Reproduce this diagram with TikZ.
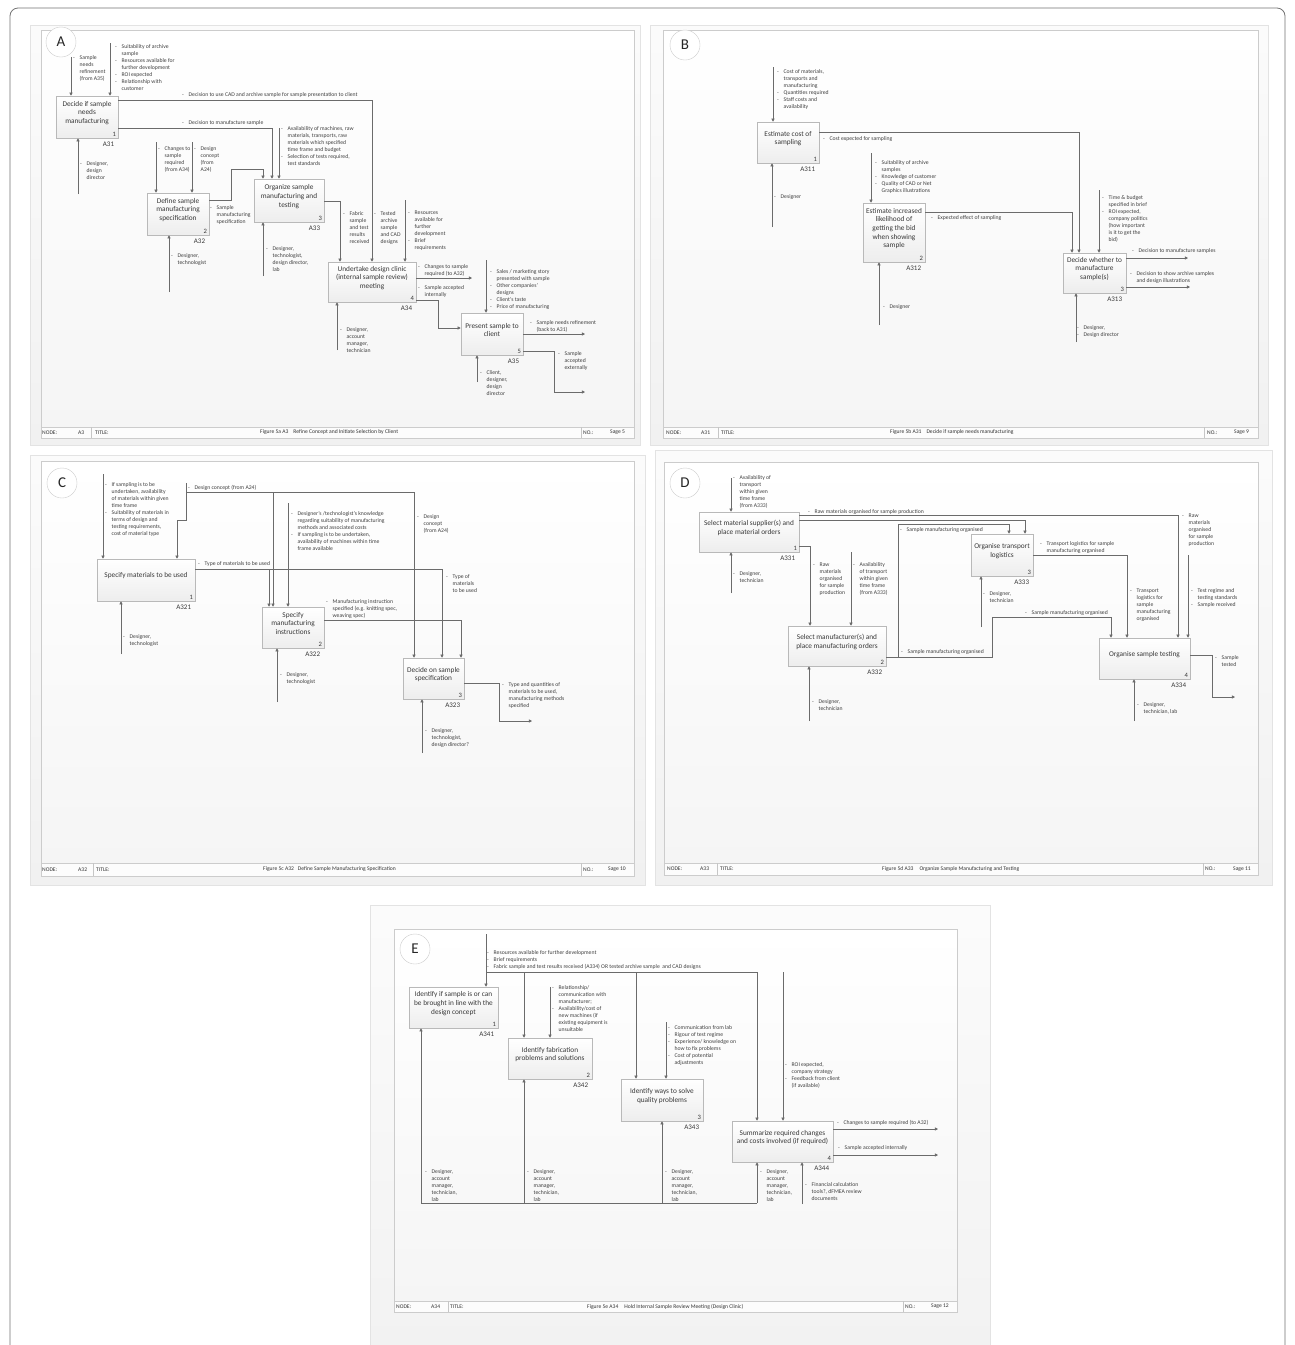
\documentclass[tikz,border=0pt]{standalone}
\usepackage{fontspec}
\setmainfont{Carlito}
\usetikzlibrary{arrows.meta,calc}
\newcommand\bu{\makebox[6.5pt][l]{-}}
\newcommand\bi{\hspace*{6.5pt}}
\newcommand\proc[8]{%
 \node[pbox, minimum width=#4, minimum height=#5] (#1) at (#2,#3) {};
 \node[btxt] (#1t) at ([yshift=4pt]#1.center) {#6};
 \node[num, anchor=south east] (#1n) at ([xshift=-2pt,yshift=1.5pt]#1.south east) {#7};
 \node[aid] (#1i) at ([xshift=-4pt,yshift=-3.5pt]#1.south east) {#8};
}
\newcommand\pagebg[9]{%
 \path[top color=gray!3, bottom color=gray!11, draw=gray!22, line width=0.4pt] (#1,#2) rectangle (#3,#4);
 \path[top color=white, bottom color=gray!8, draw=gray!40, line width=0.5pt] (#5,#6) rectangle (#7,#8);
 \draw[gray!40, line width=0.5pt, fill=gray!2] (#5,#9) rectangle (#7,#8);
}
\begin{document}
\begin{tikzpicture}[x=1pt,y=-1pt,
 ln/.style={draw=black!58, line width=0.75pt},
 arr/.style={ln, -{Triangle[length=3.2pt,width=3.2pt]}},
 pbox/.style={draw=gray!55, line width=0.5pt, top color=white, bottom color=gray!14, inner sep=0pt},
 btxt/.style={font=\fontsize{7.3}{8.7}\selectfont, align=center, text=black!78, inner sep=0pt},
 num/.style={font=\fontsize{6.6}{7}\selectfont, inner sep=0pt, text=black!78},
 aid/.style={font=\fontsize{7}{7}\selectfont, inner sep=0pt, text=black!78, anchor=north east},
 lab/.style={font=\fontsize{5.7}{7}\selectfont, align=left, inner sep=0pt, anchor=north west, text=black!75},
 ftxt/.style={font=\fontsize{5.6}{6}\selectfont, inner sep=0pt, anchor=west, text=black!80},
 fdiv/.style={draw=gray!45, line width=0.5pt},
 letter/.style={circle, draw=gray!40, fill=white, minimum size=30pt, inner sep=0pt, font=\fontsize{15}{15}\selectfont, text=black!85}
]
\useasboundingbox (0,0) rectangle (1295,1345);
\fill[white] (0,0) rectangle (1295,1345);
\draw[black!55, line width=0.8pt, rounded corners=8pt] (10,1400) -- (10,8) -- (1285,8) -- (1285,1400);

% ---------- page backgrounds
\pagebg{30}{25}{640}{445}{41}{30}{634}{438}{427}
\pagebg{650}{25}{1268}{445}{663}{30}{1258}{438}{427}
\pagebg{30}{455}{645}{885}{41}{461}{634}{876}{863}
\pagebg{655}{450}{1272}{885}{664}{462}{1258}{875}{863}
\pagebg{370}{905}{990}{1400}{394}{929}{957}{1312}{1301}

% ---------- footers
\draw[fdiv] (91,427) -- (91,438); \draw[fdiv] (581,427) -- (581,438);
\node[ftxt] (fA1) at (42,432.5) {NODE:};
\node[ftxt] (fA2) at (78,432.5) {A3};
\node[ftxt] (fA3) at (95,432.5) {TITLE:};
\node[ftxt] (fA4) at (260,432.5) {Figure 5a A3\hspace{5pt}Refine Concept and Initiate Selection by Client};
\node[ftxt] (fA5) at (583,432.5) {NO.:};
\node[ftxt] (fA6) at (610,432.5) {Sage 5};

\draw[fdiv] (718,427) -- (718,438); \draw[fdiv] (1204,427) -- (1204,438);
\node[ftxt] (fB1) at (666,432.5) {NODE:};
\node[ftxt] (fB2) at (701,432.5) {A31};
\node[ftxt] (fB3) at (721,432.5) {TITLE:};
\node[ftxt] (fB4) at (890,432.5) {Figure 5b A31\hspace{5pt}Decide if sample needs manufacturing};
\node[ftxt] (fB5) at (1207,432.5) {NO.:};
\node[ftxt] (fB6) at (1234,432.5) {Sage 9};

\draw[fdiv] (93,863) -- (93,876); \draw[fdiv] (581,863) -- (581,876);
\node[ftxt] (fC1) at (42,869.5) {NODE:};
\node[ftxt] (fC2) at (78,869.5) {A32};
\node[ftxt] (fC3) at (96,869.5) {TITLE:};
\node[ftxt] (fC4) at (263,869.5) {Figure 5c A32\hspace{4pt}Define Sample Manufacturing Specification};
\node[ftxt] (fC5) at (583,869.5) {NO.:};
\node[ftxt] (fC6) at (608,869.5) {Sage 10};

\draw[fdiv] (717,863) -- (717,875); \draw[fdiv] (1203,863) -- (1203,875);
\node[ftxt] (fD1) at (667,869) {NODE:};
\node[ftxt] (fD2) at (700,869) {A33};
\node[ftxt] (fD3) at (720,869) {TITLE:};
\node[ftxt] (fD4) at (882,869) {Figure 5d A33\hspace{6pt}Organize Sample Manufacturing and Testing};
\node[ftxt] (fD5) at (1205,869) {NO.:};
\node[ftxt] (fD6) at (1233,869) {Sage 11};

\draw[fdiv] (448,1301) -- (448,1312); \draw[fdiv] (903,1301) -- (903,1312);
\node[ftxt] (fE1) at (396,1306.5) {NODE:};
\node[ftxt] (fE2) at (431,1306.5) {A34};
\node[ftxt] (fE3) at (450,1306.5) {TITLE:};
\node[ftxt] (fE4) at (587,1306.5) {Figure 5e A34\hspace{6pt}Hold Internal Sample Review Meeting (Design Clinic)};
\node[ftxt] (fE5) at (905,1306.5) {NO.:};
\node[ftxt] (fE6) at (931,1306.5) {Sage 12};

% ---------- letters
\node[letter] (LA) at (61,42) {A};
\node[letter] (LB) at (685,45) {B};
\node[letter] (LC) at (62,483) {C};
\node[letter] (LD) at (685,483) {D};
\node[letter] (LE) at (415,949) {E};

% =================== PANEL A
\proc{A31}{87}{117}{62}{42}{Decide if sample\\needs\\manufacturing}{1}{A31}
\proc{A32}{178}{214}{62}{42}{Define sample\\manufacturing\\specification}{2}{A32}
\proc{A33}{289}{200.5}{70}{43}{Organize sample\\manufacturing and\\testing}{3}{A33}
\proc{A34}{372}{282}{88}{40}{Undertake design clinic\\(internal sample review)\\meeting}{4}{A34}
\proc{A35}{492}{334}{62}{42}{Present sample to\\client}{5}{A35}

\coordinate (pA1) at (71,57);
\coordinate (pA2) at (110,43);
\coordinate (pA3) at (156,142);
\coordinate (pA4) at (192,142);
\coordinate (pA5) at (78,194);
\coordinate (pA6) at (169,292);
\coordinate (pA7) at (279,128);
\coordinate (pA8) at (263,276);
\coordinate (pA9) at (405,200);
\coordinate (pA10) at (337,350);
\coordinate (pA11) at (486,260);
\coordinate (pA12) at (477,382);
\coordinate (qA1) at (472,278);
\coordinate (qA2) at (585,334);
\coordinate (qA3) at (585,392);

\draw[arr] (pA1) -- (A31.north -| pA1);
\draw[arr] (pA2) -- (A31.north -| pA2);
\draw[arr] (pA5) -- (A31.south -| pA5);
\draw[arr] (A31.east |- 0,100) -| (A34.north -| 372,0);
\draw[arr] (A31.east |- 0,128) -| (A33.north -| 272,0);
\draw[arr] (pA3) -- (A32.north -| pA3);
\draw[arr] (pA4) -- (A32.north -| pA4);
\draw[arr] (pA6) -- (A32.south -| pA6);
\draw[arr] (A32.east |- 0,200) -- (231,200) -- (231,169) -| (A33.north -| 263,0);
\draw[arr] (pA7) -- (A33.north -| pA7);
\draw[arr] (pA8) -- (A33.south -| pA8);
\draw[arr] (A33.east |- 0,201) -| (A34.north -| 340,0);
\draw[arr] (pA9) -- (A34.north -| pA9);
\draw[arr] (pA10) -- (A34.south -| pA10);
\draw[arr] (A34.east |- 0,278) -- (qA1);
\draw[arr] (A34.east |- 0,300) -| (438,328) -- (A35.west |- 0,328);
\draw[arr] (pA11) -- (A35.north -| pA11);
\draw[arr] (pA12) -- (A35.south -| pA12);
\draw[arr] (A35.east |- 0,334) -- (qA2);
\draw[arr] (A35.east |- 0,351) -| (554,392) -- (qA3);

\node[lab] (lA1) at (73,55.5) {\bu Sample\\\bi needs\\\bi refinement\\\bi (from A35)};
\node[lab] (lA2) at (115,44.5) {\bu Suitability of archive\\\bi sample\\\bu Resources available for\\\bi further development\\\bu ROI expected\\\bu Relationship with\\\bi customer};
\node[lab] (lA3) at (182,92) {\bu Decision to use CAD and archive sample for sample presentation to client};
\node[lab] (lA4) at (182,120) {\bu Decision to manufacture sample};
\node[lab] (lA5) at (158,146) {\bu Changes to\\\bi sample\\\bi required\\\bi (from A34)};
\node[lab] (lA6) at (194,146) {\bu Design\\\bi concept\\\bi (from\\\bi A24)};
\node[lab] (lA7) at (80,161) {\bu Designer,\\\bi design\\\bi director};
\node[lab] (lA8) at (171,253) {\bu Designer,\\\bi technologist};
\node[lab] (lA9) at (210,205) {\bu Sample\\\bi manufacturing\\\bi specification};
\node[lab] (lA10) at (281,126) {\bu Availability of machines, raw\\\bi materials, transports, raw\\\bi materials which specified\\\bi time frame and budget\\\bu Selection of tests required,\\\bi test standards};
\node[lab] (lA11) at (266,246) {\bu Designer,\\\bi technologist,\\\bi design director,\\\bi lab};
\node[lab] (lA12) at (343,211) {\bu Fabric\\\bi sample\\\bi and test\\\bi results\\\bi received};
\node[lab] (lA13) at (374,211) {\bu Tested\\\bi archive\\\bi sample\\\bi and CAD\\\bi designs};
\node[lab] (lA14) at (408,210.5) {\bu Resources\\\bi available for\\\bi further\\\bi development\\\bu Brief\\\bi requirements};
\node[lab] (lA15) at (418,264.5) {\bu Changes to sample\\\bi required (to A32)};
\node[lab] (lA16) at (418,285.5) {\bu Sample accepted\\\bi internally};
\node[lab] (lA17) at (340,327.5) {\bu Designer,\\\bi account\\\bi manager,\\\bi technician};
\node[lab] (lA18) at (490,269.5) {\bu Sales / marketing story\\\bi presented with sample\\\bu Other companies'\\\bi designs\\\bu Client's taste\\\bu Price of manufacturing};
\node[lab] (lA19) at (530,320.5) {\bu Sample needs refinement\\\bi (back to A31)};
\node[lab] (lA20) at (558,351.5) {\bu Sample\\\bi accepted\\\bi externally};
\node[lab] (lA21) at (480,370.5) {\bu Client,\\\bi designer,\\\bi design\\\bi director};

% =================== PANEL B
\proc{B1}{788}{142.5}{62}{41}{Estimate cost of\\sampling}{1}{A311}
\proc{B2}{894}{232.5}{62}{59}{Estimate increased\\likelihood of\\getting the bid\\when showing\\sample}{2}{A312}
\proc{B3}{1094.5}{273}{63}{40}{Decide whether to\\manufacture\\sample(s)}{3}{A313}

\coordinate (pB1) at (773,67);
\coordinate (pB2) at (772,227);
\coordinate (pB3) at (871,153);
\coordinate (pB4) at (879,325);
\coordinate (pB5) at (1099,190);
\coordinate (pB6) at (1076,342);
\coordinate (qB1) at (1188,258);
\coordinate (qB2) at (1190,287);

\draw[arr] (pB1) -- (B1.north -| pB1);
\draw[arr] (pB2) -- (B1.south -| pB2);
\draw[arr] (B1.east |- 0,132) -| (B3.north -| 1079,0);
\draw[arr] (pB3) -- (B2.north -| pB3);
\draw[arr] (pB4) -- (B2.south -| pB4);
\draw[arr] (B2.east |- 0,212) -| (B3.north -| 1072,0);
\draw[arr] (pB5) -- (B3.north -| pB5);
\draw[arr] (B3.east |- 0,258) -- (qB1);
\draw[arr] (B3.east |- 0,287) -- (qB2);
\draw[arr] (pB6) -- (B3.south -| pB6);

\node[lab] (lB1) at (777,69) {\bu Cost of materials,\\\bi transports and\\\bi manufacturing\\\bu Quantities required\\\bu Staff costs and\\\bi availability};
\node[lab] (lB2) at (774,194.5) {\bu Designer};
\node[lab] (lB3) at (823,136.5) {\bu Cost expected for sampling};
\node[lab] (lB4) at (875,160) {\bu Suitability of archive\\\bi samples\\\bu Knowledge of customer\\\bu Quality of CAD or Net\\\bi Graphics illustrations};
\node[lab] (lB5) at (883,304) {\bu Designer};
\node[lab] (lB6) at (931,215) {\bu Expected effect of sampling};
\node[lab] (lB7) at (1102,195) {\bu Time \& budget\\\bi specified in brief\\\bu ROI expected,\\\bi company politics\\\bi (how important\\\bi is it to get the\\\bi bid)};
\node[lab] (lB8) at (1132,248.5) {\bu Decision to manufacture samples};
\node[lab] (lB9) at (1130,271.5) {\bu Decision to show archive samples\\\bi and design illustrations};
\node[lab] (lB10) at (1077,325.5) {\bu Designer,\\\bu Design director};

% =================== PANEL C
\proc{C1}{146}{580}{98}{42}{Specify materials to be used}{1}{A321}
\proc{C2}{293}{627.5}{62}{41}{Specify\\manufacturing\\instructions}{2}{A322}
\proc{C3}{433.5}{678.5}{61}{41}{Decide on sample\\specification}{3}{A323}

\coordinate (pC1) at (103,474);
\coordinate (pC2) at (186,483);
\coordinate (pC3) at (288,503);
\coordinate (pC4) at (121,654);
\coordinate (pC5) at (277,702);
\coordinate (pC6) at (422,753);
\coordinate (qC1) at (532,721);

\draw[arr] (pC1) -- (C1.north -| pC1);
\draw[arr] (pC2) -- (186,492) -| (C3.north -| 414,0);
\draw[arr] (273,492) -- (C2.north -| 273,0);
\draw[arr] (186,492) -- (186,520) -- (177,520) -- (C1.north -| 177,0);
\draw[arr] (C1.east |- 0,569) -| (C3.north -| 442,0);
\draw[arr] (269,569) -- (C2.north -| 269,0);
\draw[arr] (pC3) -- (C2.north -| pC3);
\draw[arr] (C2.east |- 0,620) -| (C3.north -| 461,0);
\draw[arr] (pC4) -- (C1.south -| pC4);
\draw[arr] (pC5) -- (C2.south -| pC5);
\draw[arr] (C3.east |- 0,683) -| (499,721) -- (qC1);
\draw[arr] (pC6) -- (C3.south -| pC6);

\node[lab] (lC1) at (105,482.5) {\bu If sampling is to be\\\bi undertaken, availability\\\bi of materials within given\\\bi time frame\\\bu Suitability of materials in\\\bi terms of design and\\\bi testing requirements,\\\bi cost of material type};
\node[lab] (lC2) at (188,485.5) {\bu Design concept (from A24)};
\node[lab] (lC3) at (291,511) {\bu Designer's /technologist's knowledge\\\bi regarding suitability of manufacturing\\\bi methods and associated costs\\\bu If sampling is to be undertaken,\\\bi availability of machines within time\\\bi frame available};
\node[lab] (lC4) at (198,561.5) {\bu Type of materials to be used};
\node[lab] (lC5) at (417,514) {\bu Design\\\bi concept\\\bi (from A24)};
\node[lab] (lC6) at (446,574) {\bu Type of\\\bi materials\\\bi to be used};
\node[lab] (lC7) at (326,599) {\bu Manufacturing instruction\\\bi specified (e.g. knitting spec,\\\bi weaving spec)};
\node[lab] (lC8) at (123,634) {\bu Designer,\\\bi technologist};
\node[lab] (lC9) at (280,672.5) {\bu Designer,\\\bi technologist};
\node[lab] (lC10) at (502,682.5) {\bu Type and quantities of\\\bi materials to be used,\\\bi manufacturing methods\\\bi specified};
\node[lab] (lC11) at (425,728.5) {\bu Designer,\\\bi technologist,\\\bi design director?};

% =================== PANEL D
\proc{D1}{749}{532}{100}{40}{Select material supplier(s) and\\place material orders}{1}{A331}
\proc{D2}{837}{646}{98}{40}{Select manufacturer(s) and\\place manufacturing orders}{2}{A332}
\proc{D3}{1002}{555}{62}{42}{Organise transport\\logistics}{3}{A333}
\proc{D4}{1144.5}{658.5}{91}{41}{Organise sample testing}{4}{A334}

\coordinate (pD1) at (731,478);
\coordinate (pD2) at (731,593);
\coordinate (pD3) at (851,552);
\coordinate (pD4) at (809,721);
\coordinate (pD5) at (981,627);
\coordinate (pD6) at (1188,555);
\coordinate (pD7) at (1134,721);
\coordinate (qD1) at (1235,697);

\draw[arr] (pD1) -- (D1.north -| pD1);
\draw[arr] (pD2) -- (D1.south -| pD2);
\draw[arr] (D1.east |- 0,515) -| (D4.north -| 1178,0);
\draw[arr] (D1.east |- 0,520) -| (D3.north -| 1025,0);
\draw[arr] (D1.east |- 0,546) -| (D2.north -| 810,0);
\draw[arr] (pD3) -- (D2.north -| pD3);
\draw[arr] (pD4) -- (D2.south -| pD4);
\draw[arr] (D2.east |- 0,657) -- (992,657) -- (992,617) -| (D4.north -| 1111,0);
\draw[arr] (898,657) -- (898,524) -| (D3.north -| 1009,0);
\draw[arr] (D3.east |- 0,555) -| (D4.north -| 1127,0);
\draw[arr] (pD5) -- (D3.south -| pD5);
\draw[arr] (pD6) -- (D4.north -| pD6);
\draw[arr] (D4.east |- 0,655) -| (1212,697) -- (qD1);
\draw[arr] (pD7) -- (D4.south -| pD7);

\node[lab] (lD1) at (733,475.5) {\bu Availability of\\\bi transport\\\bi within given\\\bi time frame\\\bi (from A333)};
\node[lab] (lD2) at (733,571.5) {\bu Designer,\\\bi technician};
\node[lab] (lD3) at (808,509) {\bu Raw materials organised for sample production};
\node[lab] (lD4) at (900,527.5) {\bu Sample manufacturing organised};
\node[lab] (lD5) at (813,562.5) {\bu Raw\\\bi materials\\\bi organised\\\bi for sample\\\bi production};
\node[lab] (lD6) at (853,562.5) {\bu Availability\\\bi of transport\\\bi within given\\\bi time frame\\\bi (from A333)};
\node[lab] (lD7) at (812,699) {\bu Designer,\\\bi technician};
\node[lab] (lD8) at (901,649) {\bu Sample manufacturing organised};
\node[lab] (lD9) at (1025,610.5) {\bu Sample manufacturing organised};
\node[lab] (lD10) at (983,591.5) {\bu Designer,\\\bi technician};
\node[lab] (lD11) at (1040,541.5) {\bu Transport logistics for sample\\\bi manufacturing organised};
\node[lab] (lD12) at (1130,588.5) {\bu Transport\\\bi logistics for\\\bi sample\\\bi manufacturing\\\bi organised};
\node[lab] (lD13) at (1182,514) {\bu Raw\\\bi materials\\\bi organised\\\bi for sample\\\bi production};
\node[lab] (lD14) at (1191,588.5) {\bu Test regime and\\\bi testing standards\\\bu Sample received};
\node[lab] (lD15) at (1215,655.5) {\bu Sample\\\bi tested};
\node[lab] (lD16) at (1137,702.5) {\bu Designer,\\\bi technician, lab};

% =================== PANEL E
\proc{E1}{453.5}{1007.5}{89}{41}{Identify if sample is or can\\be brought in line with the\\design concept}{1}{A341}
\proc{E2}{550}{1058.5}{84}{41}{Identify fabrication\\problems and solutions}{2}{A342}
\proc{E3}{662}{1100}{82}{42}{Identify ways to solve\\quality problems}{3}{A343}
\proc{E4}{782.5}{1141.5}{101}{41}{Summarize required changes\\and costs involved (if required)}{4}{A344}

\coordinate (pE1) at (486,934);
\coordinate (pE2) at (550,987);
\coordinate (pE3) at (666,1022);
\coordinate (pE4) at (783,972);
\coordinate (pE5) at (802,1204);
\coordinate (bE1) at (421,1203);
\coordinate (bE2) at (524,1203);
\coordinate (bE3) at (662,1203);
\coordinate (bE4) at (757,1203);
\coordinate (qE1) at (938,1129);
\coordinate (qE2) at (938,1155);

\draw[arr] (pE1) -- (E1.north -| pE1);
\draw[arr] (486,972) -| (E4.north -| 757,0);
\draw[arr] (524,972) -- (E2.north -| 524,0);
\draw[arr] (636,972) -- (E3.north -| 636,0);
\draw[arr] (pE2) -- (E2.north -| pE2);
\draw[arr] (pE3) -- (E3.north -| pE3);
\draw[arr] (pE4) -- (E4.north -| pE4);
\draw[arr] (E4.east |- 0,1129) -- (qE1);
\draw[arr] (E4.east |- 0,1155) -- (qE2);
\draw[ln] (bE1) -- (bE4);
\draw[arr] (bE1) -- (E1.south -| bE1);
\draw[arr] (bE2) -- (E2.south -| bE2);
\draw[arr] (bE3) -- (E3.south -| bE3);
\draw[arr] (bE4) -- (E4.south -| bE4);
\draw[arr] (pE5) -- (E4.south -| pE5);

\node[lab] (lE1) at (487,950.5) {\bu Resources available for further development\\\bu Brief requirements\\\bu Fabric sample and test results received (A334) OR tested archive sample\ \ and CAD designs};
\node[lab] (lE2) at (552,985) {\bu Relationship/\\\bi communication with\\\bi manufacturer;\\\bu Availability/cost of\\\bi new machines (if\\\bi existing equipment is\\\bi unsuitable};
\node[lab] (lE3) at (668,1025.5) {\bu Communication from lab\\\bu Rigour of test regime\\\bu Experience/ knowledge on\\\bi how to fix problems\\\bu Cost of potential\\\bi adjustments};
\node[lab] (lE4) at (785,1062.5) {\bu ROI expected,\\\bi company strategy\\\bu Feedback from client\\\bi (if available)};
\node[lab] (lE5) at (837,1120.5) {\bu Changes to sample required (to A32)};
\node[lab] (lE6) at (838,1145.5) {\bu Sample accepted internally};
\node[lab] (lE7) at (425,1169) {\bu Designer,\\\bi account\\\bi manager,\\\bi technician,\\\bi lab};
\node[lab] (lE8) at (527,1169) {\bu Designer,\\\bi account\\\bi manager,\\\bi technician,\\\bi lab};
\node[lab] (lE9) at (665,1169) {\bu Designer,\\\bi account\\\bi manager,\\\bi technician,\\\bi lab};
\node[lab] (lE10) at (760,1169) {\bu Designer,\\\bi account\\\bi manager,\\\bi technician,\\\bi lab};
\node[lab] (lE11) at (805,1182.5) {\bu Financial calculation\\\bi tools?, dFMEA review\\\bi documents};
\end{tikzpicture}
\end{document}
